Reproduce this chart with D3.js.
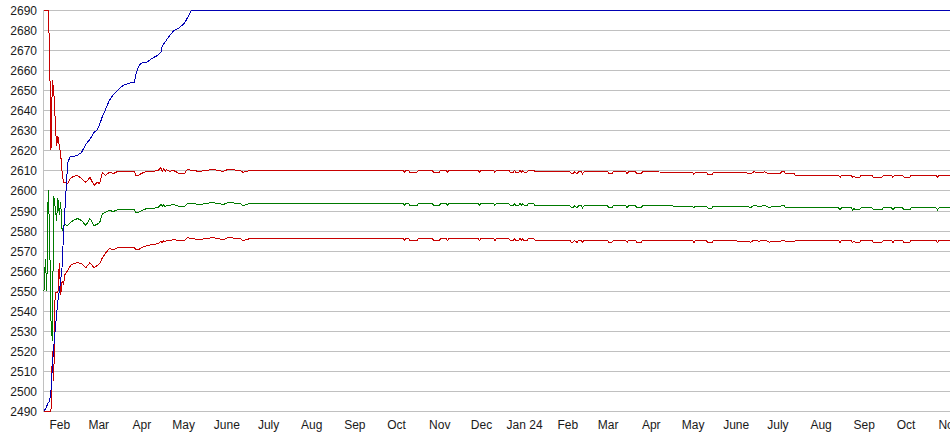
<!DOCTYPE html>
<html>
<head>
<meta charset="utf-8">
<script src="https://cdn.jsdelivr.net/npm/d3@7/dist/d3.min.js"></script>
<style>
  html, body { margin: 0; padding: 0; background: #fff; }
  svg { display: block; }
  text { font-family: "Liberation Sans", Arial, sans-serif; font-size: 12px; fill: #1a1a1a; }
</style>
</head>
<body>
<svg id="chart" width="950" height="435"></svg>
<script>
// ---------------- DATA ----------------
const dates = [
"2023-01-21","2023-01-22","2023-01-23","2023-01-24","2023-01-25","2023-01-26","2023-01-27","2023-01-28","2023-01-29","2023-01-30",
"2023-01-31","2023-02-01","2023-02-02","2023-02-03","2023-02-04","2023-02-05","2023-02-07","2023-02-09","2023-02-11","2023-02-14",
"2023-02-17","2023-02-20","2023-02-23","2023-02-26","2023-02-28","2023-03-02","2023-03-04","2023-03-06","2023-03-09","2023-03-12",
"2023-03-15","2023-03-19","2023-03-23","2023-03-27","2023-03-28","2023-03-30","2023-04-01","2023-04-05","2023-04-09","2023-04-13",
"2023-04-15","2023-04-16","2023-04-17","2023-04-18","2023-04-19","2023-04-21","2023-04-24","2023-04-28","2023-05-02","2023-05-04",
"2023-05-07","2023-05-13","2023-05-22","2023-05-30","2023-06-02","2023-06-11","2023-06-13","2023-06-18","2023-10-06","2023-10-07",
"2023-10-08","2023-10-10","2023-10-11","2023-10-16","2023-10-17","2023-10-27","2023-10-28","2023-11-01","2023-11-02","2023-11-06",
"2023-11-07","2023-11-08","2023-11-29","2023-11-30","2023-12-01","2023-12-10","2023-12-11","2023-12-12","2023-12-21","2023-12-22",
"2023-12-24","2023-12-25","2023-12-26","2023-12-28","2023-12-29","2023-12-30","2023-12-31","2024-01-01","2024-01-03","2024-01-04",
"2024-01-08","2024-01-09","2024-02-03","2024-02-04","2024-02-05","2024-02-06","2024-02-08","2024-02-09","2024-02-11","2024-02-12",
"2024-02-13","2024-03-01","2024-03-02","2024-03-04","2024-03-05","2024-03-14","2024-03-15","2024-03-16","2024-03-21","2024-03-22",
"2024-03-25","2024-03-26","2024-05-01","2024-05-02","2024-05-03","2024-05-11","2024-05-12","2024-05-15","2024-05-16","2024-06-09",
"2024-06-12","2024-06-14","2024-06-18","2024-06-22","2024-06-25","2024-06-27","2024-07-03","2024-07-04","2024-07-06","2024-07-07",
"2024-07-13","2024-07-14","2024-08-14","2024-08-15","2024-08-16","2024-08-23","2024-08-24","2024-08-25","2024-08-26","2024-08-29",
"2024-08-30","2024-09-07","2024-09-08","2024-09-14","2024-09-15","2024-09-21","2024-09-22","2024-09-23","2024-09-29","2024-09-30",
"2024-10-04","2024-10-05","2024-10-23","2024-10-24","2024-10-25","2024-11-02"
];

const upper = [
2690,2690,2690,2690,2671,2620,2655,2650,2636,2622,
2627,2622,2618,2609,2604,2604,2603.5,2606,2607,2607.5,
2606,2604,2606.5,2602.5,2604,2603.5,2609,2607.5,2609,2608.5,
2609.5,2609.5,2609.5,2609.5,2607.5,2607.5,2608.5,2609.5,2609.5,2610,
2611.5,2609.5,2611,2609.5,2610.5,2609.5,2610,2608.5,2608.5,2610.5,
2610,2609.5,2610.5,2609.5,2610.5,2610,2609,2610,2610,2609.2,
2610,2610,2609,2609,2610,2610,2609,2609,2610,2610,
2609,2610,2610,2609,2610,2610,2609,2610,2610,2609,
2609,2610,2609,2609,2610,2609,2610,2609,2609,2610,
2610,2609.3,2609.3,2608.3,2608.3,2609.3,2608.3,2609.3,2609.3,2608.3,
2609.3,2609.3,2608.3,2608.3,2609.3,2609.3,2608.3,2609.3,2609.3,2608.3,
2608.3,2609.3,2609,2608,2609,2609,2608,2608,2609,2608.7,
2608.2,2609.3,2608.7,2609.3,2608.2,2608.5,2608.5,2609.3,2609.3,2608.3,
2608.3,2607.5,2607.5,2606.5,2607.5,2607.5,2606.5,2607.2,2606.5,2606.5,
2607.5,2607.5,2606.5,2606.5,2607.5,2607.5,2606.5,2607.5,2607.5,2606.5,
2606.5,2607.5,2607.5,2606.5,2607.5,2607.5
];

const middle = [
2550,2566,2550,2600,2580,2535,2525,2597,2592,2585,
2596,2588,2594,2580,2582,2583,2582.5,2584,2585,2586,
2585,2582.5,2586,2582.5,2583,2584,2588.5,2589,2590,2589.5,
2590.5,2590.5,2590.5,2590.5,2589,2589,2590,2591,2591,2591.5,
2593,2592,2593,2592,2592.5,2592.5,2593,2592,2592,2593.5,
2593.5,2593,2594,2593,2594,2593.5,2592.5,2593.5,2593.5,2592.7,
2593.5,2593.5,2592.5,2592.5,2593.5,2593.5,2592.5,2592.5,2593.5,2593.5,
2592.5,2593.5,2593.5,2592.5,2593.5,2593.5,2592.5,2593.5,2593.5,2592.5,
2592.5,2593.5,2592.5,2592.5,2593.5,2592.5,2593.5,2592.5,2592.5,2593.5,
2593.5,2592.3,2592.3,2591.3,2591.3,2592.3,2591.3,2592.3,2592.3,2591.3,
2592.3,2592.3,2591.3,2591.3,2592.3,2592.3,2591.3,2592.3,2592.3,2591.3,
2591.3,2592.3,2592.2,2591.2,2592.2,2592.2,2591.2,2591.2,2592.2,2592,
2591.5,2592.5,2592,2592.5,2591.5,2591.8,2591.8,2592.5,2592.3,2591.3,
2591.3,2591.3,2591.3,2590.3,2591.3,2591.3,2590.3,2591,2590.3,2590.3,
2591.3,2591.3,2590.3,2590.3,2591.3,2591.3,2590.3,2591.3,2591.3,2590.3,
2590.3,2591.3,2591.3,2590.3,2591.3,2591.3
];

const lower = [
2490,2490,2490,2490,2490,2490,2520,2505,2549,2549,
2549,2564,2548,2555,2553,2558,2560,2562.5,2563.5,2564,
2563.5,2561.5,2564,2561.5,2562.5,2563.5,2566.5,2568.5,2571,2570.5,
2571.5,2571.5,2571.5,2571.5,2570.5,2570.5,2571.5,2572.5,2573,2573.5,
2574.5,2574,2575,2574.5,2575,2575,2575.5,2575,2575,2576.5,
2576,2575.5,2576.5,2575.5,2576.5,2576,2575,2576,2576,2575.2,
2576,2576,2575,2575,2576,2576,2575,2575,2576,2576,
2575,2576,2576,2575,2576,2576,2575,2576,2576,2575,
2575,2576,2575,2575,2576,2575,2576,2575,2575,2576,
2576,2575.1,2575.1,2574.1,2574.1,2575.1,2574.1,2575.1,2575.1,2574.1,
2575.1,2575.1,2574.1,2574.1,2575.1,2575.1,2574.1,2575.1,2575.1,2574.1,
2574.1,2575.1,2575,2574,2575,2575,2574,2574,2575,2574.7,
2574.2,2575.2,2574.7,2575.2,2574.2,2574.5,2574.5,2575.2,2575,2574.5,
2574.5,2575,2575,2574,2575,2575,2574,2574.7,2574,2574,
2575,2575,2574,2574,2575,2575,2574,2575,2575,2574,
2574,2575,2575,2574,2575,2575
];

const peakDates = [
"2023-01-21","2023-01-22","2023-01-23","2023-01-24","2023-01-25","2023-01-26","2023-01-27","2023-01-28","2023-01-29","2023-01-30",
"2023-01-31","2023-02-01","2023-02-02","2023-02-03","2023-02-04","2023-02-05","2023-02-07","2023-02-09","2023-02-11","2023-02-14",
"2023-02-17","2023-02-20","2023-02-23","2023-02-26","2023-02-28","2023-03-02","2023-03-04","2023-03-06","2023-03-09","2023-03-12",
"2023-03-15","2023-03-19","2023-03-23","2023-03-27","2023-03-28","2023-03-30","2023-04-01","2023-04-05","2023-04-09","2023-04-13",
"2023-04-15","2023-04-16","2023-04-17","2023-04-18","2023-04-19","2023-04-21","2023-04-24","2023-04-28","2023-05-02","2023-05-04",
"2023-05-07","2024-11-02"
];
const peak = [
2490,2491,2492.5,2494,2495,2500,2512,2522,2530,2538,
2545,2550,2555,2562,2578,2590,2614,2617,2617,2617.5,
2619,2623,2625.5,2629,2630,2633,2637,2640,2645,2648,
2650,2652.5,2653.5,2654,2658,2662,2663.5,2664,2666,2667.5,
2669,2672,2673,2674,2675,2677,2679.5,2681,2683.5,2686,
2690,2690
];

const yTicks = [2490,2500,2510,2520,2530,2540,2550,2560,2570,2580,2590,2600,2610,2620,2630,2640,2650,2660,2670,2680,2690];
const xTickDates = ["2023-02-01","2023-03-01","2023-04-01","2023-05-01","2023-06-01","2023-07-01","2023-08-01","2023-09-01","2023-10-01","2023-11-01","2023-12-01","2024-01-01","2024-02-01","2024-03-01","2024-04-01","2024-05-01","2024-06-01","2024-07-01","2024-08-01","2024-09-01","2024-10-01","2024-11-01"];
const xTickLabels = ["Feb","Mar","Apr","May","June","July","Aug","Sep","Oct","Nov","Dec","Jan 24","Feb","Mar","Apr","May","June","July","Aug","Sep","Oct","Nov"];
const domainStart = "2023-01-21";
const domainEnd = "2024-11-02";

// ---------------- CHART ----------------
(function () {
const parse = d3.timeParse("%Y-%m-%d");
const svg = d3.select("#chart");
const pLeft = 44, pRight = 950, pTop = 10, pBottom = 411;

const x = d3.scaleTime().domain([parse(domainStart), parse(domainEnd)]).range([pLeft, pRight]);
const y = d3.scaleLinear().domain([2490, 2690]).range([pBottom, pTop]);

// grid lines
svg.append("g").selectAll("line").data(yTicks).join("line")
  .attr("x1", pLeft).attr("x2", pRight)
  .attr("y1", d => Math.round(y(d)) + 0.5).attr("y2", d => Math.round(y(d)) + 0.5)
  .attr("stroke", "#c0c0c0").attr("stroke-width", 1).attr("shape-rendering", "crispEdges");

// left axis line
svg.append("line").attr("x1", pLeft - 0.5).attr("x2", pLeft - 0.5)
  .attr("y1", Math.round(y(2690))).attr("y2", Math.round(y(2490)) + 1)
  .attr("stroke", "#c0c0c0").attr("shape-rendering", "crispEdges");

// y labels
svg.append("g").selectAll("text").data(yTicks).join("text")
  .attr("x", 37).attr("y", d => Math.round(y(d)) + 4.5)
  .attr("text-anchor", "end").text(d => d);

// x labels
const xAxis = d3.axisBottom(x)
  .tickValues(xTickDates.map(parse))
  .tickFormat((d, i) => xTickLabels[i])
  .tickSize(0).tickPadding(9);
const gx = svg.append("g").attr("transform", `translate(0,${pBottom})`).call(xAxis);
gx.select(".domain").remove();
gx.selectAll("text").attr("font-family", "Liberation Sans, Arial, sans-serif").attr("font-size", 12).attr("fill", "#1a1a1a");

// series
const line = d3.line().x(d => x(d[0])).y(d => y(d[1]));
function draw(ds, vs, color) {
  const pts = ds.map((d, i) => [parse(d), vs[i]]);
  svg.append("path").datum(pts)
    .attr("d", line)
    .attr("fill", "none").attr("stroke", color).attr("stroke-width", 1)
    .attr("shape-rendering", "crispEdges");
}
draw(dates, lower, "#c80000");
draw(dates, upper, "#c80000");
draw(dates, middle, "#007a00");
draw(peakDates, peak, "#0000b4");
})();
</script>
</body>
</html>
